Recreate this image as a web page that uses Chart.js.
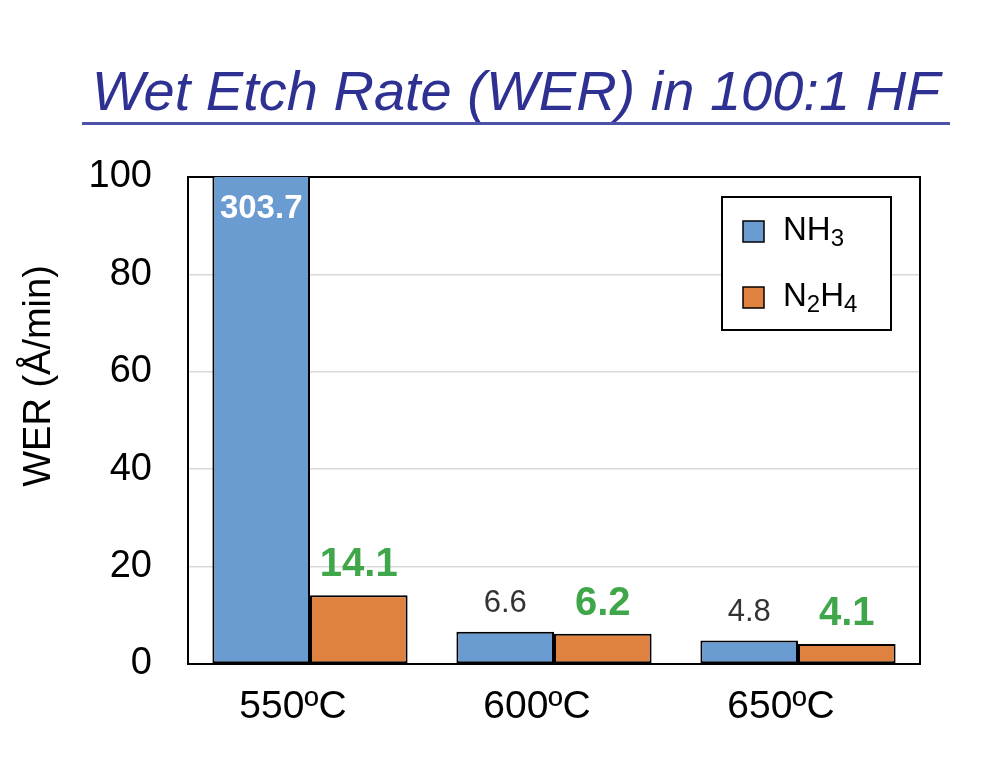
<!DOCTYPE html>
<html>
<head>
<meta charset="utf-8">
<script src="https://cdn.jsdelivr.net/npm/chart.js@4.4.0/dist/chart.umd.min.js"></script>
<style>
body{margin:0;background:#fff;}
#wrap{position:relative;width:992px;height:780px;}
#titulo{position:absolute;left:82px;top:60px;width:868px;text-align:center;font:italic 56px "Liberation Sans",Arial,sans-serif;color:#2e3192;border-bottom:3px solid #4c52a8;line-height:62px;padding-bottom:0px;white-space:nowrap;}
canvas{position:absolute;left:0;top:0;}
</style>
</head>
<body>
<div id="wrap">
<canvas id="grafico" width="992" height="780"></canvas>
<div id="titulo">Wet Etch Rate (WER) in 100:1 HF</div>
</div>
<script>
// datos
var temperaturas=["550ºC","600ºC","650ºC"];
var werNH3=[303.7,6.6,4.8];
var werN2H4=[14.1,6.2,4.1];
var nombresSerie=["NH3","N2H4"];
var tituloEjeY="WER (Å/min)";
var ejeYmin=0, ejeYmax=100, ejeYpaso=20;

var colores=["#6a9bd1","#e0823f"];
var fuente='"Liberation Sans", Arial, sans-serif';

// escribe un texto con los numeros como subindices (NH3, N2H4)
function textoQuimico(ctx,texto,x,y,tam){
    let partes=texto.match(/[A-Za-z]+|[0-9]+/g);
    partes.forEach(p=>{
        if(/[0-9]/.test(p)){
            ctx.font=Math.round(tam*0.72)+"px "+fuente;
            ctx.fillText(p,x,y+tam*0.25);
        }else{
            ctx.font=tam+"px "+fuente;
            ctx.fillText(p,x,y);
        }
        x+=ctx.measureText(p).width;
    });
}

var pluginExtras={
    id:"extras",
    beforeDatasetsDraw(chart){
        let ctx=chart.ctx, a=chart.chartArea;
        ctx.save();
        ctx.strokeStyle="#000";
        ctx.lineWidth=2;
        ctx.strokeRect(a.left,a.top,a.right-a.left,a.bottom-a.top);
        ctx.restore();
    },
    afterDatasetsDraw(chart){
        let ctx=chart.ctx, a=chart.chartArea;
        let max=chart.scales.y.max;
        ctx.save();
        ctx.textAlign="center";
        ctx.textBaseline="middle";
        chart.data.datasets.forEach((ds,i)=>{
            chart.getDatasetMeta(i).data.forEach((barra,j)=>{
                let v=ds.data[j];
                let txt=v.toFixed(1);
                if(v>max){
                    ctx.fillStyle="#fff";
                    ctx.font="bold 33px "+fuente;
                    ctx.fillText(txt,barra.x,a.top+32);
                }else if(i==0){
                    ctx.fillStyle="#333";
                    ctx.font="31px "+fuente;
                    ctx.fillText(txt,barra.x,barra.y-28);
                }else{
                    ctx.fillStyle="#3fa64a";
                    ctx.font="bold 40px "+fuente;
                    ctx.fillText(txt,barra.x,barra.y-30);
                }
            });
        });
        ctx.restore();
    },
    afterDraw(chart){
        let ctx=chart.ctx;
        ctx.save();
        // titulo del eje y
        ctx.translate(40,376);
        ctx.rotate(-Math.PI/2);
        ctx.fillStyle="#000";
        ctx.font="38px "+fuente;
        ctx.textAlign="center";
        ctx.textBaseline="middle";
        ctx.fillText(tituloEjeY,0,0);
        ctx.restore();

        // leyenda
        ctx.save();
        ctx.fillStyle="#fff";
        ctx.fillRect(722,197,169,133);
        ctx.strokeStyle="#000";
        ctx.lineWidth=2;
        ctx.strokeRect(722,197,169,133);
        nombresSerie.forEach((n,i)=>{
            let cy=231+i*66;
            ctx.fillStyle=colores[i];
            ctx.fillRect(743,cy-10,21,21);
            ctx.strokeStyle="#000";
            ctx.lineWidth=1.5;
            ctx.strokeRect(743,cy-10,21,21);
            ctx.fillStyle="#000";
            ctx.textBaseline="middle";
            ctx.textAlign="left";
            textoQuimico(ctx,n,783,cy,33);
        });
        ctx.restore();
    }
};

new Chart(document.getElementById("grafico"),{
    type:"bar",
    data:{
        labels:temperaturas,
        datasets:[
            {label:nombresSerie[0],data:werNH3,backgroundColor:colores[0],borderColor:"#000",borderWidth:2,borderSkipped:false},
            {label:nombresSerie[1],data:werN2H4,backgroundColor:colores[1],borderColor:"#000",borderWidth:2,borderSkipped:false}
        ]
    },
    options:{
        responsive:false,
        animation:false,
        layout:{padding:{top:177,right:72,left:0,bottom:0}},
        plugins:{legend:{display:false},tooltip:{enabled:false}},
        datasets:{bar:{categoryPercentage:0.8,barPercentage:1.0}},
        scales:{
            x:{
                grid:{display:false,drawTicks:false},
                border:{display:false},
                ticks:{color:"#000",font:{family:fuente,size:39},padding:20,labelOffset:-17,maxRotation:0},
                afterFit(s){s.height=116;}
            },
            y:{
                min:ejeYmin,max:ejeYmax,
                grid:{color:"#d9d9d9",lineWidth:1.5,drawTicks:false},
                border:{display:false},
                ticks:{stepSize:ejeYpaso,color:"#000",font:{family:fuente,size:38},padding:36},
                afterFit(s){s.width=188;}
            }
        }
    },
    plugins:[pluginExtras]
});
</script>
</body>
</html>
